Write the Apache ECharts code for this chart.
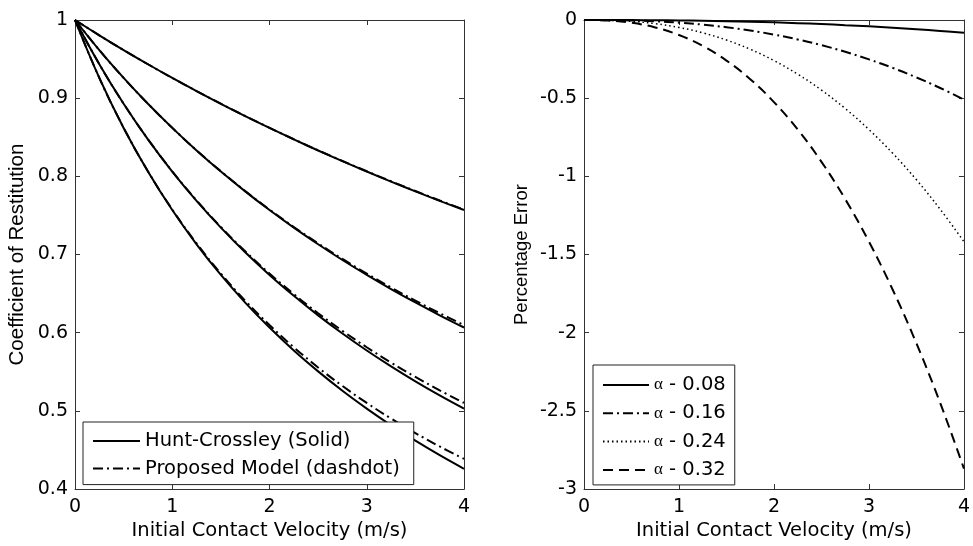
<!DOCTYPE html>
<html>
<head>
<meta charset="utf-8">
<script src="https://cdn.jsdelivr.net/npm/echarts@6/dist/echarts.min.js"></script>
<style>
html,body{margin:0;padding:0;background:#fff;}
#chart{width:973px;height:546px;}
</style>
</head>
<body>
<div id="chart"></div>
<script>
// ---- data ----
const velocity = [0, 0.25, 0.5, 0.75, 1, 1.25, 1.5, 1.75, 2, 2.25, 2.5, 2.75, 3, 3.25, 3.5, 3.75, 4];

// Coefficient of restitution: Hunt-Crossley (solid) and proposed model (dashdot)
const hc008 = [1, 0.9804, 0.9615, 0.9434, 0.9259, 0.9091, 0.8928, 0.8771, 0.8620, 0.8473, 0.8331, 0.8194, 0.8062, 0.7933, 0.7808, 0.7687, 0.7570];
const pm008 = [1, 0.9804, 0.9615, 0.9434, 0.9259, 0.9091, 0.8929, 0.8772, 0.8621, 0.8475, 0.8333, 0.8197, 0.8065, 0.7937, 0.7813, 0.7692, 0.7576];
const hc016 = [1, 0.9615, 0.9259, 0.8928, 0.8620, 0.8331, 0.8061, 0.7808, 0.7569, 0.7344, 0.7132, 0.6930, 0.6740, 0.6559, 0.6387, 0.6223, 0.6067];
const pm016 = [1, 0.9615, 0.9259, 0.8929, 0.8621, 0.8333, 0.8065, 0.7813, 0.7576, 0.7353, 0.7143, 0.6944, 0.6757, 0.6579, 0.6410, 0.6250, 0.6098];
const hc024 = [1, 0.9434, 0.8928, 0.8473, 0.8061, 0.7686, 0.7344, 0.7029, 0.6739, 0.6472, 0.6222, 0.5990, 0.5773, 0.5570, 0.5379, 0.5199, 0.5030];
const pm024 = [1, 0.9434, 0.8929, 0.8475, 0.8065, 0.7692, 0.7353, 0.7042, 0.6757, 0.6494, 0.6250, 0.6024, 0.5814, 0.5618, 0.5435, 0.5263, 0.5102];
const hc032 = [1, 0.9259, 0.8619, 0.8061, 0.7569, 0.7131, 0.6739, 0.6386, 0.6066, 0.5773, 0.5506, 0.5258, 0.5030, 0.4817, 0.4619, 0.4434, 0.4260];
const pm032 = [1, 0.9259, 0.8621, 0.8065, 0.7576, 0.7143, 0.6757, 0.6410, 0.6098, 0.5814, 0.5556, 0.5319, 0.5102, 0.4902, 0.4717, 0.4545, 0.4386];

// Percentage error
const err008 = [0, -0.0001, -0.0005, -0.0014, -0.0027, -0.0048, -0.0074, -0.0108, -0.015, -0.020, -0.026, -0.033, -0.040, -0.049, -0.059, -0.070, -0.082];
const err016 = [0, -0.0006, -0.0031, -0.0084, -0.0171, -0.0295, -0.0461, -0.0672, -0.0932, -0.1244, -0.1610, -0.2034, -0.2517, -0.3063, -0.3672, -0.4349, -0.5093];
const err024 = [0, -0.0016, -0.0087, -0.0235, -0.0475, -0.0820, -0.1282, -0.1871, -0.2595, -0.3463, -0.4483, -0.5662, -0.7007, -0.8525, -1.0222, -1.2105, -1.4179];
const err032 = [0, -0.0032, -0.0176, -0.0475, -0.0961, -0.1660, -0.2595, -0.3786, -0.5250, -0.7007, -0.9071, -1.1457, -1.4179, -1.7251, -2.0685, -2.4494, -2.8691];

const leftLegend = ['Hunt-Crossley (Solid)', 'Proposed Model (dashdot)'];
const rightLegend = ['α - 0.08', 'α - 0.16', 'α - 0.24', 'α - 0.32'];
const xTicksLabel = 'Initial Contact Velocity (m/s)';
const leftYLabel = 'Coefficient of Restitution';
const rightYLabel = 'Percentage Error';

// ---- chart ----
const FONT = 'DejaVu Sans';
const AX = '#333';
const pairs = arr => velocity.map((v, i) => [v, arr[i]]);
const fmt = v => String(Math.round(v * 10) / 10);

function xAx(grid, pos, named) {
  return {
    gridIndex: grid, type: 'value', min: 0, max: 4, interval: 1, position: pos,
    name: named ? xTicksLabel : '', nameLocation: 'middle', nameGap: 31,
    nameTextStyle: { fontFamily: FONT, fontSize: 19.5, color: '#000' },
    axisLine: { show: true, onZero: false, lineStyle: { color: AX, width: 1 } },
    axisTick: { show: true, inside: true, length: 5, lineStyle: { color: AX } },
    axisLabel: { show: named, fontFamily: FONT, fontSize: 19, color: '#000', margin: 8, formatter: fmt },
    splitLine: { show: false }
  };
}
function yAx(grid, pos, min, max, interval, name, gap, nameSize) {
  return {
    gridIndex: grid, type: 'value', min: min, max: max, interval: interval, position: pos,
    name: name || '', nameLocation: 'middle', nameGap: gap || 0, nameRotate: 90,
    nameTextStyle: { fontFamily: 'Liberation Sans', fontSize: nameSize || 18.5, color: '#000' },
    axisLine: { show: true, onZero: false, lineStyle: { color: AX, width: 1 } },
    axisTick: { show: true, inside: true, length: 5, lineStyle: { color: AX } },
    axisLabel: { show: !!name, fontFamily: FONT, fontSize: 19, color: '#000', margin: 7, formatter: fmt },
    splitLine: { show: false }
  };
}
function line(name, arr, xi, yi, type, width) {
  return {
    name: name, type: 'line', xAxisIndex: xi, yAxisIndex: yi, data: pairs(arr),
    symbol: 'none', smooth: 0.4, animation: false,
    lineStyle: { color: '#000', width: width || 2, type: type }, itemStyle: { color: '#000' }
  };
}
const DASHDOT = [10, 4, 2, 4];
const noSymbol = { color: 'rgba(0,0,0,0)', borderWidth: 0, opacity: 0 };

const option = {
  backgroundColor: '#fff',
  animation: false,
  grid: [
    { left: 75, top: 20, width: 389, height: 471 },
    { left: 584, top: 20, width: 388, height: 471 }
  ],
  xAxis: [xAx(0, 'bottom', true), xAx(0, 'top', false), xAx(1, 'bottom', true), xAx(1, 'top', false)],
  yAxis: [
    yAx(0, 'left', 0.4, 1, 0.1, leftYLabel, 47, 20.5),
    yAx(0, 'right', 0.4, 1, 0.1, '', 0),
    yAx(1, 'left', -3, 0, 0.5, rightYLabel, 53, 18.5),
    yAx(1, 'right', -3, 0, 0.5, '', 0)
  ],
  legend: [
    {
      data: leftLegend, orient: 'vertical', left: 83, top: 422,
      itemWidth: 47, itemHeight: 14, itemGap: 7.6, padding: [9, 14, 6, 9],
      backgroundColor: '#fff', borderColor: '#222', borderWidth: 1, borderRadius: 0,
      selectedMode: false, itemStyle: noSymbol,
      textStyle: { fontFamily: FONT, fontSize: 19.5, color: '#000', lineHeight: 20 }
    },
    {
      data: rightLegend, orient: 'vertical', left: 593, top: 365,
      itemWidth: 46, itemHeight: 14, itemGap: 8.3, padding: [10, 9, 5, 9],
      backgroundColor: '#fff', borderColor: '#222', borderWidth: 1, borderRadius: 0,
      selectedMode: false, itemStyle: noSymbol,
      formatter: n => '{a|α}{b|' + n.slice(1) + '}',
      textStyle: {
        color: '#000', lineHeight: 20,
        rich: {
          a: { fontFamily: 'Liberation Serif', fontSize: 17, color: '#000', lineHeight: 20 },
          b: { fontFamily: FONT, fontSize: 19.5, color: '#000', lineHeight: 20 }
        }
      }
    }
  ],
  series: [
    line(leftLegend[0], hc008, 0, 0, 'solid'),
    line(leftLegend[1], pm008, 0, 0, DASHDOT),
    line(leftLegend[0], hc016, 0, 0, 'solid'),
    line(leftLegend[1], pm016, 0, 0, DASHDOT),
    line(leftLegend[0], hc024, 0, 0, 'solid'),
    line(leftLegend[1], pm024, 0, 0, DASHDOT),
    line(leftLegend[0], hc032, 0, 0, 'solid'),
    line(leftLegend[1], pm032, 0, 0, DASHDOT),
    line(rightLegend[0], err008, 2, 2, 'solid'),
    line(rightLegend[1], err016, 2, 2, DASHDOT),
    line(rightLegend[2], err024, 2, 2, [1.5, 3], 1.5),
    line(rightLegend[3], err032, 2, 2, [10, 6])
  ]
};

const chart = echarts.init(document.getElementById('chart'), null, { renderer: 'canvas' });
chart.setOption(option);
</script>
</body>
</html>
